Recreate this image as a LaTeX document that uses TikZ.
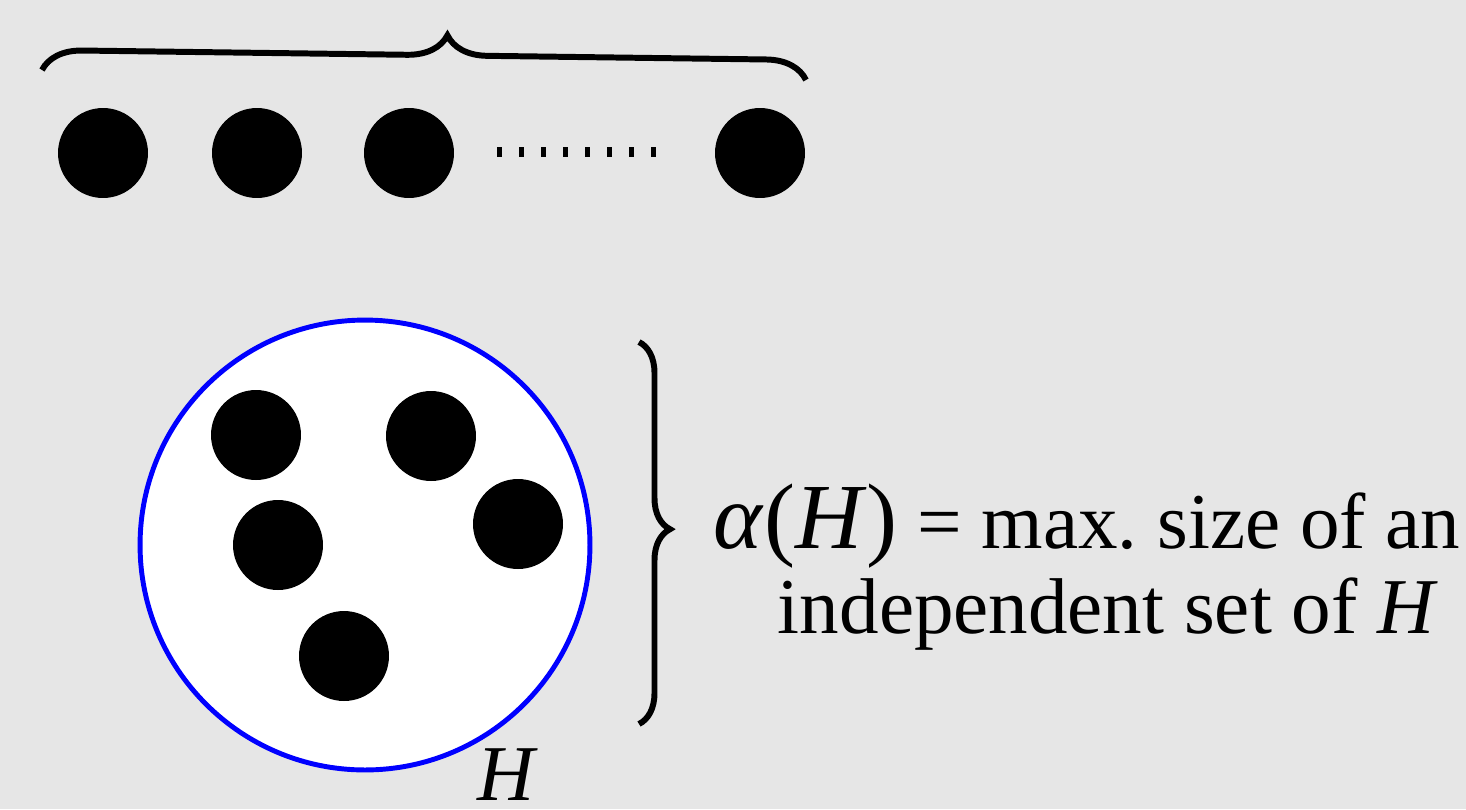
\documentclass[tikz,border=0pt]{standalone}
\usepackage{fontspec}
\setmainfont{Liberation Serif}
\usetikzlibrary{decorations.pathreplacing}
\definecolor{bggray}{HTML}{E6E6E6}
\tikzset{dot/.style={circle,fill=black,inner sep=0pt,minimum size=1.8cm},
  brc/.style={decorate,decoration={brace,amplitude=#1},line width=3.4pt},
  txt/.style={font=\fontsize{45}{52}\selectfont,inner sep=0pt}}
\begin{document}
\begin{tikzpicture}[x=0.02cm,y=-0.02cm]
\fill[bggray](0,0)rectangle(1466,809);
\useasboundingbox(0,0)rectangle(1466,809);
% top row
\foreach \x/\n in {103/a,257/b,409/c,760/d}\node[dot](\n)at(\x,153){};
\foreach \x in {0,...,7}\fill(497+22*\x,147)rectangle(502+22*\x,157);
\coordinate(tl)at(42,70);\coordinate(tr)at(806,80);
\draw[brc=0.8cm,decoration={aspect=0.53}](tl)--(tr);
% the graph H
\node[circle,draw=blue,fill=white,line width=2.8pt,minimum size=9cm,inner sep=0pt](H)at(365,545){};
\foreach \x/\y/\n in {256/435/p,431/436/q,518/524/r,278/545/s,344/656/t}\node[dot](\n)at(\x,\y){};
\node[txt,anchor=base](hl)at(508,800){\textit{H}};
\coordinate(bt)at(639,342);\coordinate(bb)at(639,724);
\draw[brc=0.62cm,decoration={aspect=0.49}](bt)--(bb);
\node[txt,anchor=base](l1)at(1087,548){{\fontsize{53}{53}\selectfont\textit{α}(\textit{H})} = max.\ size of an};
\node[txt,anchor=base](l2)at(1108,633){independent set of \textit{H}};
\end{tikzpicture}
\end{document}
